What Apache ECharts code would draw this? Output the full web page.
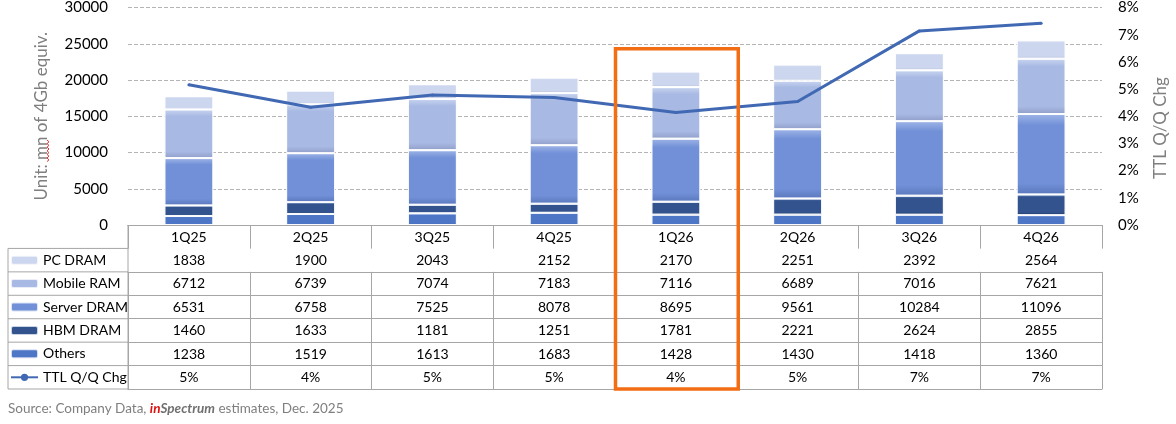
<!DOCTYPE html>
<html>
<head>
<meta charset="utf-8">
<script src="https://cdn.jsdelivr.net/npm/echarts@6/dist/echarts.min.js"></script>
<style>
html,body{margin:0;padding:0;background:#fff;}
#chart{width:1176px;height:424px;}
</style>
</head>
<body>
<div id="chart"></div>
<script>
const categories = ['1Q25','2Q25','3Q25','4Q25','1Q26','2Q26','3Q26','4Q26'];
const pcDram     = [1838, 1900, 2043, 2152, 2170, 2251, 2392, 2564];
const mobileRam  = [6712, 6739, 7074, 7183, 7116, 6689, 7016, 7621];
const serverDram = [6531, 6758, 7525, 8078, 8695, 9561, 10284, 11096];
const hbmDram    = [1460, 1633, 1181, 1251, 1781, 2221, 2624, 2855];
const others     = [1238, 1519, 1613, 1683, 1428, 1430, 1418, 1360];
const ttlQoQ     = [5.16, 4.33, 4.78, 4.69, 4.14, 4.54, 7.14, 7.42];
const ttlLabels  = ['5%','4%','5%','5%','4%','5%','7%','7%'];
const leftTicks  = [0, 30000, 5000];
const rightTicks = [0, 8, 1];
const highlightCat = '1Q26';
const rightTitle = 'TTL Q/Q Chg';

const FONT = 'Lato';
const GRID = {left:128, right:74, top:5, bottom:199};
const ROW_H = 23.43;
const LINE_C = '#a6a6a6';

function grad(light, base, dark){
  return {type:'linear', x:0, y:0, x2:0, y2:1, colorStops:[
    {offset:0, color:light},{offset:0.14, color:base},{offset:0.86, color:base},{offset:1, color:dark}]};
}
const styles = {
  pc:     {color: grad('#eef2fa','#ccd6ee','#b3bed8')},
  mobile: {color: grad('#c9d5f0','#a8b9e3','#909fc9')},
  server: {color: grad('#9fb5e7','#7190d7','#5b78bd')},
  hbm:    {color: grad('#6585c0','#33538e','#1f3868')},
  others: {color: grad('#82a0dc','#4d76c6','#355ca4')}
};

const tableRows = [
  pcDram.map(String), mobileRam.map(String), serverDram.map(String),
  hbmDram.map(String), others.map(String), ttlLabels
];

const xAxes = [];
xAxes.push({
  type:'category', data:categories, position:'bottom', offset:0,
  axisLine:{show:true, lineStyle:{color:LINE_C, width:1}},
  axisTick:{show:true, length:ROW_H, interval:0, lineStyle:{color:LINE_C}},
  axisLabel:{interval:0, margin:5, fontFamily:FONT, fontSize:14, color:'#000'}
});
tableRows.forEach((row, i) => {
  xAxes.push({
    type:'category', data:categories, position:'bottom', offset:(i+1)*ROW_H,
    axisLine:{show:true, lineStyle:{color:LINE_C, width:1}},
    axisTick:{show:true, length:ROW_H, interval:0, lineStyle:{color:LINE_C}},
    axisLabel:{interval:0, margin:5, fontFamily:FONT, fontSize:14, color:'#000',
      formatter:(v, idx) => row[idx]}
  });
});
xAxes.push({
  type:'category', data:categories, position:'bottom', offset:(tableRows.length+1)*ROW_H,
  axisLine:{show:true, lineStyle:{color:LINE_C, width:1}},
  axisTick:{show:false}, axisLabel:{show:false}
});

const barCommon = {type:'bar', stack:'total', barWidth:49, xAxisIndex:0, yAxisIndex:0,
  itemStyle:{borderColor:'rgba(255,255,255,0.75)', borderWidth:1}};

const plotBottom = 424 - GRID.bottom;
const chart = echarts.init(document.getElementById('chart'), null, {renderer:'canvas'});
const option = {
  animation:false,
  textStyle:{fontFamily:FONT},
  grid:GRID,
  legend:{
    orient:'vertical', left:10, top:plotBottom + ROW_H + (ROW_H-16)/2, padding:0,
    itemGap:ROW_H-16, itemWidth:27, itemHeight:9, selectedMode:false,
    textStyle:{fontFamily:FONT, fontSize:14, lineHeight:16, color:'#000'},
    data:['PC DRAM','Mobile RAM','Server DRAM','HBM DRAM','Others','TTL Q/Q Chg']
  },
  xAxis:xAxes,
  yAxis:[
    {type:'value', min:leftTicks[0], max:leftTicks[1], interval:leftTicks[2],
     name:'Unit: mn of 4Gb equiv.', nameLocation:'middle', nameGap:78,
     nameTextStyle:{fontFamily:FONT, fontSize:17, color:'#7f7f7f'},
     axisLine:{show:false}, axisTick:{show:false},
     axisLabel:{margin:20, fontFamily:FONT, fontSize:15, color:'#000', formatter:v => String(v)},
     splitLine:{show:true, lineStyle:{type:'dashed', color:'#b4b4b4', width:1}}},
    {type:'value', min:rightTicks[0], max:rightTicks[1], interval:rightTicks[2], position:'right',
     axisLine:{show:false}, axisTick:{show:false},
     axisLabel:{margin:16, fontFamily:FONT, fontSize:15, color:'#000', formatter:'{value}%'},
     splitLine:{show:false}}
  ],
  series:[
    Object.assign({}, barCommon, {name:'Others', data:others, itemStyle:Object.assign({}, barCommon.itemStyle, styles.others)}),
    Object.assign({}, barCommon, {name:'HBM DRAM', data:hbmDram, itemStyle:Object.assign({}, barCommon.itemStyle, styles.hbm)}),
    Object.assign({}, barCommon, {name:'Server DRAM', data:serverDram, itemStyle:Object.assign({}, barCommon.itemStyle, styles.server)}),
    Object.assign({}, barCommon, {name:'Mobile RAM', data:mobileRam, itemStyle:Object.assign({}, barCommon.itemStyle, styles.mobile)}),
    Object.assign({}, barCommon, {name:'PC DRAM', data:pcDram, itemStyle:Object.assign({}, barCommon.itemStyle, styles.pc)}),
    {type:'line', name:'TTL Q/Q Chg', data:ttlQoQ, xAxisIndex:0, yAxisIndex:1,
     symbol:'circle', symbolSize:3, z:10,
     lineStyle:{color:'#4169b3', width:3}, itemStyle:{color:'#4169b3'}}
  ]
};
chart.setOption(option);

// table left column, source note, highlight box, right axis title
const tableBottom = plotBottom + (tableRows.length + 1) * ROW_H;
const leftX = 8;
const gfx = [];
gfx.push({type:'line', silent:true, shape:{x1:leftX, y1:plotBottom+ROW_H, x2:leftX, y2:tableBottom},
  style:{stroke:LINE_C, lineWidth:1}});
for (let i = 1; i <= tableRows.length + 1; i++) {
  const y = plotBottom + i * ROW_H;
  gfx.push({type:'line', silent:true, shape:{x1:leftX, y1:y, x2:GRID.left, y2:y},
    style:{stroke:LINE_C, lineWidth:1}});
}
gfx.push({type:'line', silent:true, shape:{x1:GRID.left, y1:plotBottom, x2:GRID.left, y2:tableBottom},
  style:{stroke:LINE_C, lineWidth:1}});
// spell-check squiggle under "mn"
const sq = [];
for (let k = 0; k <= 12; k++) sq.push([47 + (k % 2 ? 2 : 0), 140 + k * 1.8]);
gfx.push({type:'polyline', silent:true, shape:{points:sq}, style:{stroke:'#e03030', lineWidth:1, fill:null}});
gfx.push({type:'text', left:8, top:402, silent:true,
  style:{text:'{g|Source: Company Data, }{r|in}{s|Spectrum}{g| estimates, Dec. 2025}',
    rich:{g:{fontFamily:FONT, fontSize:13.5, fill:'#7f7f7f'},
          r:{fontFamily:FONT, fontSize:13.5, fill:'#e01010', fontWeight:'bold', fontStyle:'italic'},
          s:{fontFamily:FONT, fontSize:13.5, fill:'#707070', fontWeight:'bold', fontStyle:'italic'}}}});
gfx.push({type:'text', silent:true, x:1161, y:128, rotation:Math.PI/2,
  style:{text:rightTitle, fontFamily:FONT, fontSize:17, fill:'#7f7f7f', align:'center', verticalAlign:'middle'}});
const cx = chart.convertToPixel({xAxisIndex:0}, highlightCat);
const band = (1176 - GRID.left - GRID.right) / categories.length;
const topY = chart.convertToPixel({yAxisIndex:0}, 24300);
gfx.push({type:'rect', silent:true, z:100,
  shape:{x:cx - band/2 + 0.5, y:topY, width:band + 1, height:tableBottom - topY},
  style:{fill:null, stroke:'#f26d14', lineWidth:3.5}});
chart.setOption({graphic:gfx});
</script>
</body>
</html>
